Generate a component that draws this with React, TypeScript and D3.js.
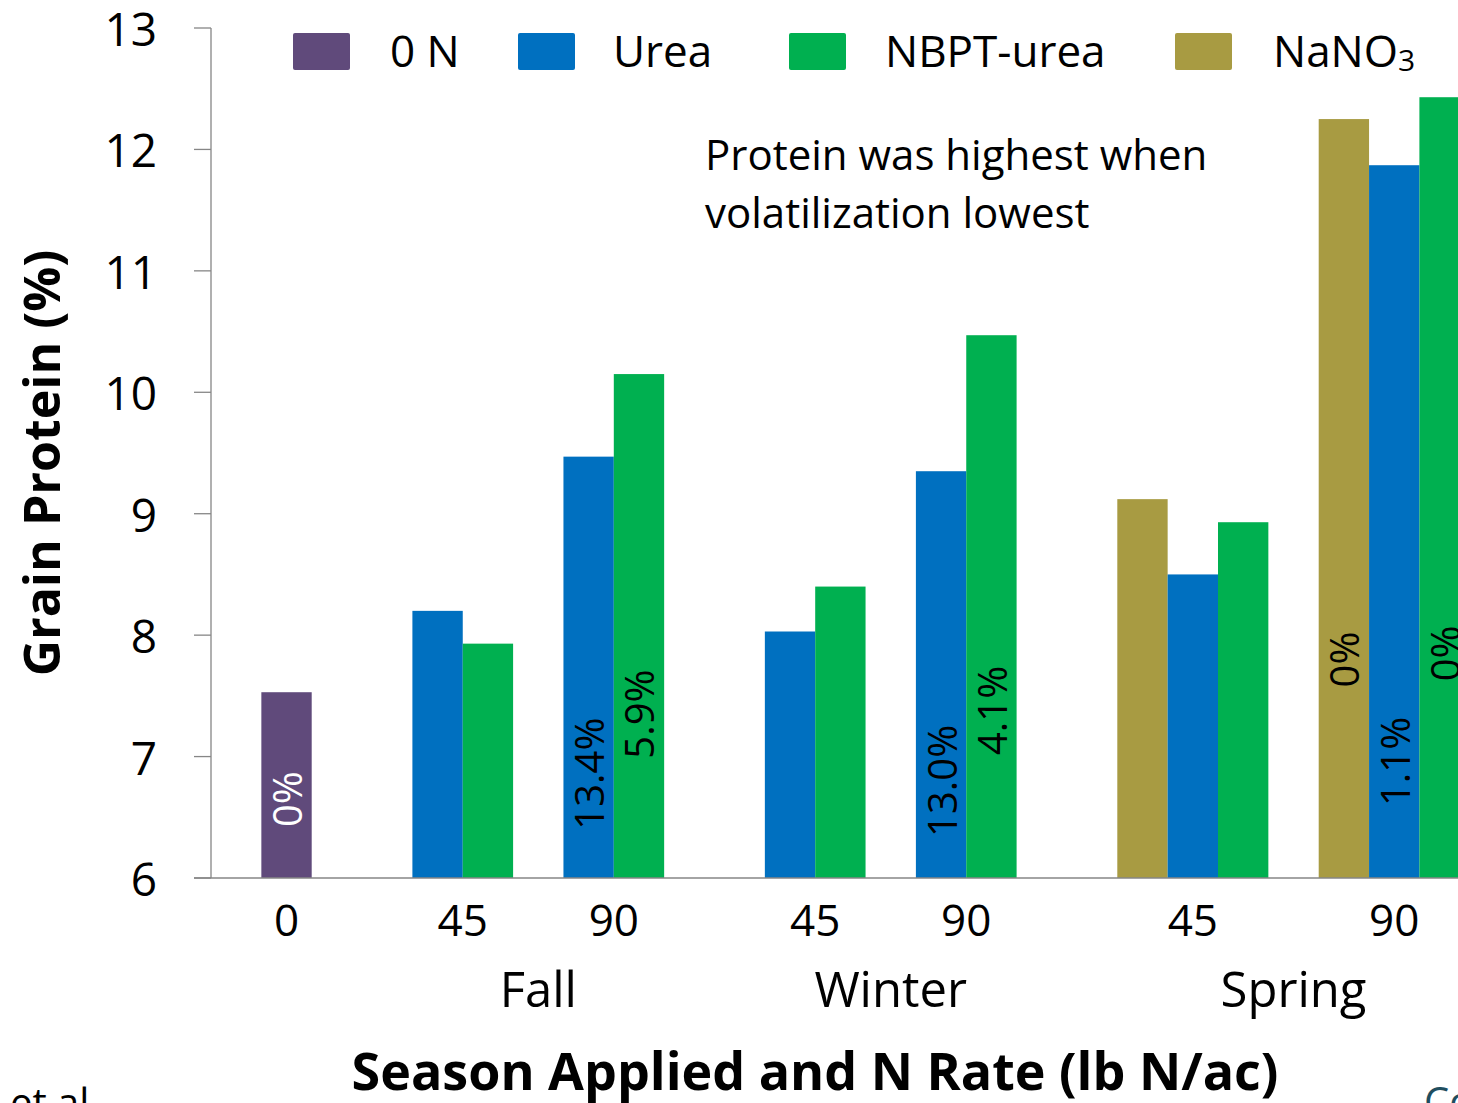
import { useMemo } from "react";
import * as d3 from "d3";

// grain protein (%) by season applied and N rate
const SEASONS = ["", "Fall", "Fall", "Winter", "Winter", "Spring", "Spring"];
const RATES = ["0", "45", "90", "45", "90", "45", "90"];

const SERIES = ["0 N", "NaNO3", "Urea", "NBPT-urea"];
const CONTROL = [7.53, null, null, null, null, null, null];
const NANO3 = [null, null, null, null, null, 9.12, 12.25];
const UREA = [null, 8.2, 9.47, 8.03, 9.35, 8.5, 11.87];
const NBPT = [null, 7.93, 10.15, 8.4, 10.47, 8.93, 12.43];

// volatilization loss printed inside bars
const VOL_CONTROL = ["0%", null, null, null, null, null, null];
const VOL_NANO3 = [null, null, null, null, null, null, "0%"];
const VOL_UREA = [null, null, "13.4%", null, "13.0%", null, "1.1%"];
const VOL_NBPT = [null, null, "5.9%", null, "4.1%", null, "0%"];

const Y_TICKS = [6, 7, 8, 9, 10, 11, 12, 13];

const COLORS: Record<string, string> = {
  "0 N": "#604A7B",
  NaNO3: "#A89B42",
  Urea: "#0070C0",
  "NBPT-urea": "#00B050",
};

// where the rotated % labels sit (centre, in protein units)
const LABEL_AT: Record<string, (number | null)[]> = {
  "0 N": [6.65, null, null, null, null, null, null],
  NaNO3: [null, null, null, null, null, null, 7.8],
  Urea: [null, null, 6.86, null, 6.8, null, 6.96],
  "NBPT-urea": [null, null, 7.35, null, 7.38, null, 7.85],
};

const FONT = "'Open Sans', sans-serif";
const W = 1458;
const H = 1103;
const M = { left: 211, top: 28, bottom: 225 };
const SLOT = 50.35;

export default function App() {
  const values: Record<string, (number | null)[]> = {
    "0 N": CONTROL,
    NaNO3: NANO3,
    Urea: UREA,
    "NBPT-urea": NBPT,
  };
  const vols: Record<string, (string | null)[]> = {
    "0 N": VOL_CONTROL,
    NaNO3: VOL_NANO3,
    Urea: VOL_UREA,
    "NBPT-urea": VOL_NBPT,
  };

  // lay out bars slot by slot: 1 empty slot between rates, 2 between seasons
  const layout = useMemo(() => {
    const bars: any[] = [];
    const groups: any[] = [];
    let slot = 1;
    RATES.forEach((rate, i) => {
      if (i > 0) slot += SEASONS[i] === SEASONS[i - 1] ? 1 : 2;
      const start = slot;
      SERIES.forEach((s) => {
        const v = values[s][i];
        if (v == null) return;
        bars.push({ series: s, cat: i, slot, value: v, label: vols[s][i], at: LABEL_AT[s][i] });
        slot += 1;
      });
      groups.push({ cat: i, rate, season: SEASONS[i], start, end: slot });
    });
    return { bars, groups, total: slot + 1 };
  }, []);

  const y = d3.scaleLinear().domain([6, 13]).range([H - M.bottom, M.top]);
  const x = d3
    .scaleBand<number>()
    .domain(d3.range(layout.total))
    .range([M.left, M.left + layout.total * SLOT])
    .padding(0);

  const groupCenter = (g: any) => (x(g.start)! + x(g.end - 1)! + x.bandwidth()) / 2;

  const seasons = d3
    .groups(layout.groups.filter((g) => g.season), (g) => g.season)
    .map(([name, gs]) => ({
      name,
      cx: (x(gs[0].start)! + x(gs[gs.length - 1].end - 1)! + x.bandwidth()) / 2,
    }));

  const legend = [
    { key: "0 N", sx: 293, tx: 390 },
    { key: "Urea", sx: 518, tx: 613 },
    { key: "NBPT-urea", sx: 789, tx: 885 },
    { key: "NaNO3", sx: 1175, tx: 1273 },
  ];

  return (
    <div style={{ position: "fixed", left: 0, top: 0, background: "#fff" }}>
      <svg width={W} height={H} style={{ display: "block", fontFamily: FONT }}>
        <rect width={W} height={H} fill="#fff" />

        {/* bars */}
        {layout.bars.map((b, i) => (
          <rect
            key={i}
            x={x(b.slot)}
            y={y(b.value)}
            width={x.bandwidth()}
            height={y(6) - y(b.value)}
            fill={COLORS[b.series]}
          />
        ))}

        {/* volatilization labels */}
        {layout.bars
          .filter((b) => b.label)
          .map((b, i) => {
            const cx = x(b.slot)! + x.bandwidth() / 2;
            const cy = y(b.at);
            return (
              <text
                key={i}
                transform={`translate(${cx},${cy}) rotate(-90)`}
                textAnchor="middle"
                dominantBaseline="central"
                fontSize={40}
                fill={b.series === "0 N" ? "#fff" : "#000"}
              >
                {b.label}
              </text>
            );
          })}

        {/* y axis */}
        <line x1={M.left} x2={M.left} y1={y(13)} y2={y(6)} stroke="#868686" strokeWidth={1.3} />
        {Y_TICKS.map((t) => (
          <g key={t}>
            <line x1={M.left - 17} x2={M.left} y1={y(t)} y2={y(t)} stroke="#868686" strokeWidth={1.3} />
            <text x={157} y={y(t)} textAnchor="end" dominantBaseline="central" fontSize={46} fill="#000">
              {t}
            </text>
          </g>
        ))}
        {/* x axis */}
        <line x1={M.left - 17} x2={W} y1={y(6)} y2={y(6)} stroke="#868686" strokeWidth={1.3} />

        {/* category labels */}
        {layout.groups.map((g) => (
          <text key={g.cat} x={groupCenter(g)} y={936} textAnchor="middle" fontSize={44} fill="#000">
            {g.rate}
          </text>
        ))}
        {seasons.map((s) => (
          <text key={s.name} x={s.cx} y={1007} textAnchor="middle" fontSize={49} fill="#000">
            {s.name}
          </text>
        ))}

        {/* axis titles */}
        <text x={815} y={1090} textAnchor="middle" fontSize={52} fontWeight="bold" fill="#000">
          Season Applied and N Rate (lb N/ac)
        </text>
        <text
          transform={`translate(60,463) rotate(-90)`}
          textAnchor="middle"
          fontSize={50}
          fontWeight="bold"
          fill="#000"
        >
          Grain Protein (%)
        </text>

        {/* legend */}
        {legend.map((l) => (
          <g key={l.key}>
            <rect x={l.sx} y={33} width={57} height={37} rx={2} fill={COLORS[l.key]} />
            <text x={l.tx} y={50} dominantBaseline="central" fontSize={44} fill="#000">
              {l.key === "NaNO3" ? (
                <>
                  NaNO<tspan fontSize={30} dy={9}>3</tspan>
                </>
              ) : (
                l.key
              )}
            </text>
          </g>
        ))}

        {/* annotation */}
        <text x={705} fontSize={42} fill="#000">
          <tspan x={705} y={170}>Protein was highest when</tspan>
          <tspan x={705} y={228}>volatilization lowest</tspan>
        </text>

        {/* slide remnants */}
        <text x={10} y={1117} fontSize={40} fill="#000">et al</text>
        <text x={1424} y={1116} fontSize={40} fill="#1F4E5F">Co</text>
      </svg>
    </div>
  );
}
